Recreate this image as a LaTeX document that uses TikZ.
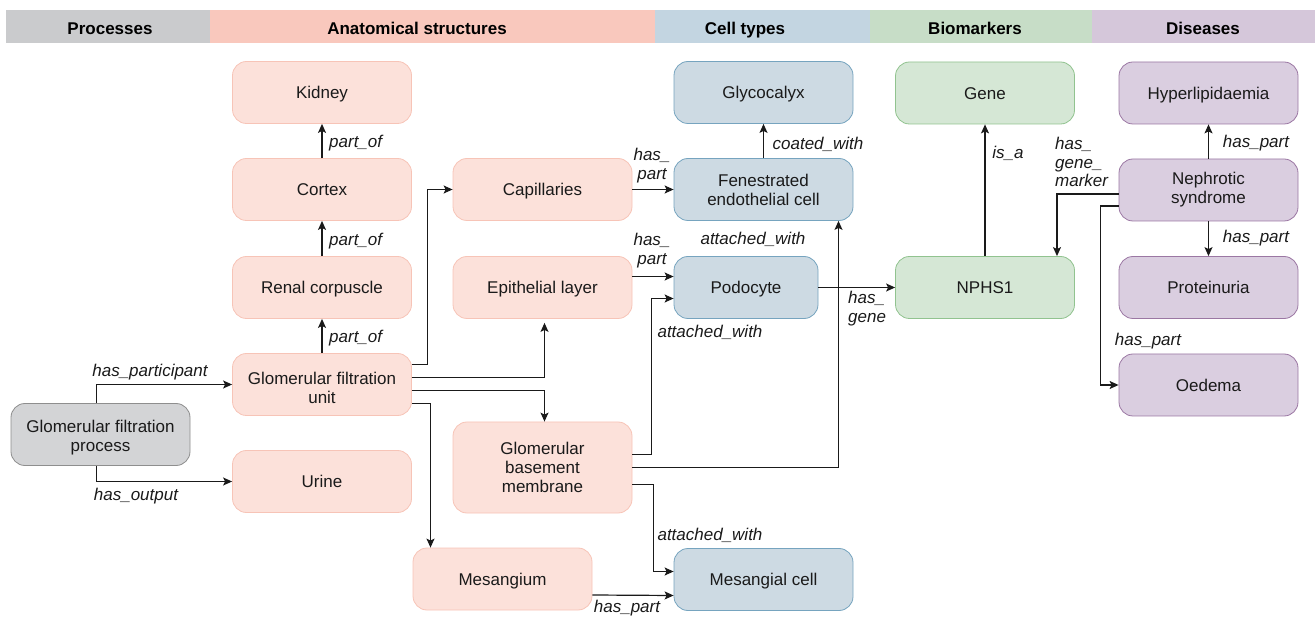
\documentclass[tikz,border=0pt]{standalone}
\usepackage{fontspec}
\setmainfont{Liberation Sans}
\usetikzlibrary{calc,arrows.meta}
\definecolor{hproc}{HTML}{CACBCD}
\definecolor{hanat}{HTML}{F9C8BD}
\definecolor{hcell}{HTML}{C3D5E1}
\definecolor{hbio}{HTML}{C7DDC7}
\definecolor{hdis}{HTML}{D5C7DA}
\definecolor{anatfill}{HTML}{FCE1DA}
\definecolor{anatdraw}{HTML}{F7C4B7}
\definecolor{procfill}{HTML}{D3D4D6}
\definecolor{procdraw}{HTML}{8E8E8E}
\definecolor{cellfill}{HTML}{CDDAE3}
\definecolor{celldraw}{HTML}{76A4BF}
\definecolor{biofill}{HTML}{D5E7D5}
\definecolor{biodraw}{HTML}{91C38F}
\definecolor{disfill}{HTML}{DACEE0}
\definecolor{disdraw}{HTML}{9B77A3}
\definecolor{txt}{HTML}{1A1A1A}
\newcommand{\lift}{\rule{0pt}{19pt}}
\begin{document}
\begin{tikzpicture}[x=1pt,y=-1pt,
  box/.style={rounded corners=14pt, minimum width=179pt, minimum height=62pt,
    align=center, font=\fontsize{17}{19}\selectfont, text=txt, line width=0.8pt,
    inner sep=0pt, text height=12.2pt, text depth=0pt},
  ml/.style={text height={}, text depth={}},
  anat/.style={box, fill=anatfill, draw=anatdraw},
  proc/.style={box, fill=procfill, draw=procdraw},
  cell/.style={box, fill=cellfill, draw=celldraw},
  bio/.style={box, fill=biofill, draw=biodraw},
  dis/.style={box, fill=disfill, draw=disdraw},
  conn/.style={line width=1.2pt, draw=txt, -{Stealth[length=9pt,width=8pt,inset=2pt]}},
  lbl/.style={font=\fontsize{17}{19}\selectfont\itshape, text=txt, inner sep=0pt, align=center},
  hdr/.style={font=\fontsize{17}{20}\selectfont\bfseries, text=black, inner sep=0pt,
    text height=12.2pt, text depth=0pt}]
\useasboundingbox (0,0) rectangle (1315,617);
% header bar
\fill[hproc] (6,10) rectangle (210,43.5);
\fill[hanat] (210,10) rectangle (655,43.5);
\fill[hcell] (655,10) rectangle (870,43.5);
\fill[hbio] (870,10) rectangle (1092,43.5);
\fill[hdis] (1092,10) rectangle (1315,43.5);
\node[hdr] (tproc) at (110,28.9) {Processes};
\node[hdr] (tanat) at (417,28.9) {Anatomical structures};
\node[hdr] (tcell) at (745,28.9) {Cell types};
\node[hdr] (tbio) at (975,28.9) {Biomarkers};
\node[hdr] (tdis) at (1203,28.9) {Diseases};
% nodes
\node[anat] (kidney) at (322,92.5) {Kidney};
\node[anat] (cortex) at (322,189.5) {Cortex};
\node[anat] (renal) at (322,287.5) {Renal corpuscle};
\node[anat, ml] (gfu) at (322,384.5) {\lift Glomerular filtration\\unit};
\node[anat] (urine) at (322,481.5) {Urine};
\node[proc, ml] (gfp) at (100.5,434.5) {\lift Glomerular filtration\\process};
\node[anat] (cap) at (542.5,189.5) {Capillaries};
\node[anat] (epi) at (542.5,287.5) {Epithelial layer};
\node[anat, ml, minimum height=91pt] (gbm) at (542.5,467.5) {Glomerular\\basement\\membrane};
\node[anat] (mesg) at (502.5,579) {Mesangium};
\node[cell] (glyco) at (763.5,92.5) {Glycocalyx};
\node[cell, ml] (fen) at (763.5,189.5) {Fenestrated\\endothelial cell};
\node[cell, minimum width=144pt] (podo) at (746,287.5) {Podocyte};
\node[cell] (mcell) at (763.5,579.5) {Mesangial cell};
\node[bio] (gene) at (985,93) {Gene};
\node[bio] (nphs) at (985,287.5) {NPHS1};
\node[dis] (hyper) at (1208.5,93) {Hyperlipidaemia};
\node[dis, ml] (neph) at (1208.5,190) {Nephrotic\\syndrome};
\node[dis] (prot) at (1208.5,287.5) {Proteinuria};
\node[dis] (oed) at (1208.5,385) {Oedema};
% connectors
\draw[conn] ($(gfp.north)+(-4,0)$) |- (gfu.west);
\draw[conn] ($(gfp.south)+(-4,0)$) |- (urine.west);
\draw[conn] (gfu.north) -- (renal.south);
\draw[conn] (renal.north) -- (cortex.south);
\draw[conn] (cortex.north) -- (kidney.south);
\draw[conn] ($(gfu.east)+(0,-20)$) -| ($(cap.west)+(-25,0)$) -- (cap.west);
\draw[conn] ($(gfu.east)+(0,-7)$) -| ($(epi.south)+(2,4)$);
\draw[conn] ($(gfu.east)+(0,6)$) -| ($(gbm.north)+(2,0)$);
\draw[conn] ($(gfu.east)+(0,19)$) -| ($(mesg.north)+(-72,0)$);
\draw[conn] (cap.east) -- (fen.west);
\draw[conn] ($(epi.east)+(0,-11)$) -- ($(podo.west)+(0,-11)$);
\draw[conn] ($(gbm.east)+(0,-13)$) -| ($(podo.west)+(-22,11)$) -- ($(podo.west)+(0,11)$);
\draw[conn] (gbm.east) -| ($(fen.south)+(75,0)$);
\draw[conn] ($(gbm.east)+(0,17)$) -- ++(21,0) |- ($(mcell.west)+(0,-8)$);
\draw[conn] ($(mesg.east)+(0,16)$) -- ($(mcell.west)+(0,16)$);
\draw[conn] (fen.north) -- (glyco.south);
\draw[conn] (podo.east) -- (nphs.west);
\draw[conn] (nphs.north) -- (gene.south);
\draw[conn] ($(neph.west)+(0,4)$) -| ($(nphs.north)+(72,0)$);
\draw[conn] (neph.north) -- (hyper.south);
\draw[conn] (neph.south) -- (prot.north);
\draw[conn] ($(neph.west)+(0,16)$) -- ++(-18,0) |- (oed.west);
% labels
\node[lbl] (l1) at (150,372) {has\_participant};
\node[lbl] (l2) at (136,496) {has\_output};
\node[lbl, anchor=west] (l3) at (329,143) {part\_of};
\node[lbl, anchor=west] (l4) at (329,241) {part\_of};
\node[lbl, anchor=west] (l5) at (329,338) {part\_of};
\node[lbl] (l6) at (652,166) {has\_\\part};
\node[lbl] (l7) at (652,251) {has\_\\part};
\node[lbl] (l8) at (753,239) {attached\_with};
\node[lbl] (l9) at (710,332) {attached\_with};
\node[lbl] (l10) at (710,535) {attached\_with};
\node[lbl] (l11) at (627,608) {has\_part};
\node[lbl] (l12) at (818,144) {coated\_with};
\node[lbl, align=left, anchor=west] (l13) at (848,309) {has\_\\gene};
\node[lbl] (l14) at (1008,153) {is\_a};
\node[lbl, align=left, anchor=west, font=\fontsize{17}{18.5}\selectfont\itshape] (l15) at (1055,162) {has\_\\gene\_\\marker};
\node[lbl] (l16) at (1256,143) {has\_part};
\node[lbl] (l17) at (1256,238) {has\_part};
\node[lbl] (l18) at (1148,341) {has\_part};
\end{tikzpicture}
\end{document}
